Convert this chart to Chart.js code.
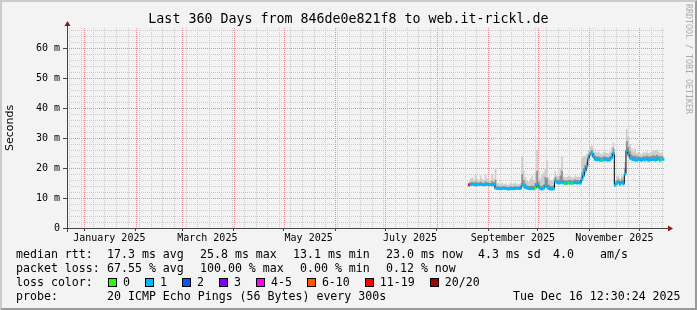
<!DOCTYPE html>
<html>
<head>
<meta charset="utf-8">
<script src="https://cdn.jsdelivr.net/npm/chart.js@4.4.1/dist/chart.umd.min.js"></script>
<style>
  html, body { margin: 0; padding: 0; background: #f3f3f3; }
  #wrap { position: relative; width: 697px; height: 310px; overflow: hidden; font-family: 'DejaVu Sans Mono', monospace; color: #000; }
  #frame { position: absolute; left: 0; top: 0; width: 697px; height: 310px; box-sizing: border-box; border: 2px solid; border-color: #cbcbcb #999 #999 #cbcbcb; pointer-events: none; }
  canvas { position: absolute; left: 0; top: 0; }
  #title { position: absolute; left: 0; top: 11px; width: 697px; text-align: center; font-size: 13.3px; line-height: 16px; white-space: pre; }
  #mark { position: absolute; left: 684px; top: 4px; writing-mode: vertical-rl; font-size: 8.3px; color: #aaa; white-space: pre; }
  .t { position: absolute; font-size: 11.6px; line-height: 14px; white-space: pre; }
  .box { display: inline-block; width: 7px; height: 7px; border: 1px solid #000; vertical-align: -1px; margin-right: 6px; }
  .item { margin-right: 15px; }
</style>
</head>
<body>
<div id="wrap">
  <canvas id="chart" width="697" height="310"></canvas>
  <div id="title">Last 360 Days from 846de0e821f8 to web.it-rickl.de</div>
  <div id="mark">RRDTOOL / TOBI OETIKER</div>

  <div class="t" style="top:247px; left:16px">median rtt:</div>
  <div class="t" style="top:247px; left:107px">17.3 ms avg</div>
  <div class="t" style="top:247px; left:200px">25.8 ms max</div>
  <div class="t" style="top:247px; left:293px">13.1 ms min</div>
  <div class="t" style="top:247px; left:386px">23.0 ms now</div>
  <div class="t" style="top:247px; left:478px">4.3 ms sd</div>
  <div class="t" style="top:247px; left:553px">4.0</div>
  <div class="t" style="top:247px; left:600px">am/s</div>

  <div class="t" style="top:261px; left:16px">packet loss:</div>
  <div class="t" style="top:261px; left:107px">67.55 % avg</div>
  <div class="t" style="top:261px; left:200px">100.00 % max</div>
  <div class="t" style="top:261px; left:300px">0.00 % min</div>
  <div class="t" style="top:261px; left:386px">0.12 % now</div>

  <div class="t" style="top:275px; left:16px">loss color:</div>
  <div class="t" id="lossLegend" style="top:275px; left:108px"></div>

  <div class="t" style="top:289px; left:16px">probe:</div>
  <div class="t" style="top:289px; left:107px">20 ICMP Echo Pings (56 Bytes) every 300s</div>
  <div class="t" style="top:289px; left:513px">Tue Dec 16 12:30:24 2025</div>
  <div id="frame"></div>
</div>
<script>
// one value per day, first value is day 242 of the 360 day window
const startDay = 242;

const median = [
  14.4, 14.5, 14.6, 14.5, 14.4, 14.5, 14.6, 14.5, 14.5, 14.4, 14.5, 14.6, 14.5, 14.5, 14.4, 14.5,
  13.3, 13.2, 13.2, 13.1, 13.2, 13.3, 13.2, 13.1, 13.0, 13.2, 13.2, 13.1, 13.2, 13.3, 13.2, 13.2,
  14.3, 14.0, 13.5, 13.3, 13.2, 13.1, 13.2, 13.1, 13.4, 14.5, 13.6, 13.1, 13.0, 13.3, 14.0, 13.8, 13.2, 13.0, 13.0, 13.1,
  15.6, 15.2, 15.0, 15.1, 15.3, 15.0, 14.8, 14.9, 15.1, 15.0, 14.9, 15.0, 15.2, 15.0, 15.1, 15.0,
  16.2, 17.5, 19.0, 20.5, 23.2, 24.5, 24.9, 23.8, 22.9, 22.7, 22.8, 22.6, 22.5, 22.7, 22.8, 22.7, 22.6, 22.8, 23.5, 24.8,
  14.3, 14.8, 15.3, 14.6, 15.2, 14.7,
  18.0, 25.8, 24.5, 23.3, 23.0, 22.8, 22.7, 22.6, 22.8, 22.7, 22.6, 22.9, 22.7, 23.0, 22.6, 22.7, 22.8, 22.9, 22.7, 22.8, 23.0, 22.6, 22.8, 22.9
];

const smokeMid = [
  15.0, 15.2, 15.3, 15.1, 15.5, 15.2, 15.0, 15.4, 15.1, 15.0, 15.5, 15.2, 15.1, 15.0, 15.6, 15.2,
  16.0, 13.8, 13.9, 13.7, 13.9, 13.8, 13.8, 13.6, 13.6, 13.9, 13.7, 13.8, 13.9, 13.7, 13.8, 13.9,
  18.0, 16.0, 14.8, 14.2, 14.0, 14.0, 14.2, 14.0, 15.0, 19.0, 15.5, 14.2, 14.0, 14.5, 17.0, 16.5, 14.5, 14.0, 14.0, 14.2,
  17.0, 16.2, 16.0, 17.5, 19.0, 16.0, 15.8, 15.8, 16.0, 16.0, 15.8, 15.9, 16.2, 16.0, 16.0, 16.0,
  18.5, 20.0, 21.0, 22.0, 24.5, 25.5, 26.0, 25.0, 24.0, 23.8, 23.9, 23.6, 23.5, 23.8, 23.9, 23.7, 23.6, 24.0, 25.0, 26.5,
  15.2, 15.8, 16.2, 15.5, 16.2, 15.8,
  20.0, 29.0, 27.0, 25.5, 24.5, 24.0, 24.2, 23.8, 23.9, 23.7, 23.6, 24.0, 23.8, 24.2, 23.8, 23.9, 24.0, 24.3, 24.0, 24.4, 24.2, 23.8, 23.9, 24.0
];

const smokeMax = [
  16.0, 16.5, 16.8, 16.2, 17.8, 16.5, 16.0, 17.5, 16.3, 16.0, 17.8, 16.5, 16.2, 16.0, 18.0, 16.5,
  20.0, 14.8, 15.0, 14.5, 15.2, 14.6, 14.8, 14.4, 14.5, 15.0, 14.6, 14.8, 15.2, 14.5, 14.7, 15.0,
  23.8, 19.0, 17.0, 16.0, 15.5, 16.5, 17.5, 16.0, 18.5, 26.0, 19.0, 16.5, 17.8, 18.5, 20.0, 22.5, 17.0, 16.0, 15.8, 16.5,
  19.0, 17.5, 17.0, 20.0, 23.8, 17.2, 16.8, 17.0, 17.5, 17.2, 16.8, 16.8, 17.5, 17.0, 17.2, 17.0,
  23.5, 24.0, 24.0, 24.5, 26.0, 27.0, 27.5, 26.5, 25.5, 25.2, 25.5, 24.8, 24.6, 25.3, 25.5, 25.0, 24.8, 25.5, 27.0, 28.5,
  16.0, 17.0, 17.5, 16.5, 17.5, 17.0,
  22.0, 33.0, 30.5, 28.0, 26.5, 25.5, 26.5, 25.0, 25.2, 24.8, 24.6, 25.3, 25.0, 25.6, 25.0, 25.2, 25.5, 26.0, 25.8, 26.2, 25.6, 25.0, 25.2, 25.3
];

// lost pings out of 20
const loss = [
  15, 1, 1, 1, 1, 1, 1, 1, 1, 1, 1, 1, 1, 1, 1, 1,
  1, 1, 1, 1, 1, 1, 1, 1, 1, 1, 1, 1, 1, 1, 1, 1,
  1, 1, 1, 1, 1, 1, 1, 1, 0, 1, 1, 1, 1, 1, 1, 1, 1, 1, 1, 1,
  1, 1, 1, 1, 1, 1, 0, 1, 0, 1, 0, 1, 1, 1, 1, 1,
  1, 1, 1, 1, 1, 1, 1, 1, 1, 1, 1, 1, 0, 1, 1, 1, 1, 1, 1, 1,
  1, 1, 1, 1, 1, 1,
  1, 1, 1, 1, 1, 1, 1, 1, 1, 1, 1, 1, 1, 1, 1, 1, 1, 1, 1, 1, 1, 1, 0, 1
];

const lossLabels = ['0', '1', '2', '3', '4-5', '6-10', '11-19', '20/20'];
const lossUpper = [0, 1, 2, 3, 5, 10, 19, 20];
const lossColors = ['#26ff00', '#00b8ff', '#0059ff', '#7e00ff', '#ff00ff', '#ff5500', '#ff0000', '#a10000'];

const xLabels = ['January 2025', 'March 2025', 'May 2025', 'July 2025', 'September 2025', 'November 2025'];

const lossColor = n => lossColors[lossUpper.findIndex(u => n <= u)];

document.getElementById('lossLegend').innerHTML = lossLabels.map((l, i) =>
  '<span class="item"><span class="box" style="background:' + lossColors[i] + '"></span>' + l + '</span>').join('');

// time axis in days from the window start
const t0 = Date.UTC(2024, 11, 21, 12, 30);
const dayOf = (y, m, d) => (Date.UTC(y, m, d) - t0) / 864e5;

const monthStarts = [];
for (let m = 0; m < 12; m++) monthStarts.push(dayOf(2025, m, 1));
let xTicks = monthStarts.map(v => ({ value: v, type: 'month', label: '' }));
for (let d = dayOf(2024, 11, 23); d < 360; d += 7) {
  if (!monthStarts.some(m => Math.abs(m - d) < 0.01)) xTicks.push({ value: d, type: 'week', label: '' });
}
xLabels.forEach((l, i) => xTicks.push({ value: dayOf(2025, 2 * i, 16), type: 'label', label: l }));
xTicks.sort((a, b) => a.value - b.value);

const yTicks = [];
for (let v = 0; v <= 66; v += 2) yTicks.push(v);

const pts = arr => arr.map((v, i) => ({ x: startDay + i, y: v }));

const majorDot = '#e88c8c';
const minorDot = '#cacaca';
const mono = { family: 'DejaVu Sans Mono', size: 10 };

// rrdtool style dotted grid, one pixel on / one off
const gridPlugin = {
  id: 'dotGrid',
  beforeDatasetsDraw(chart) {
    const { ctx, chartArea: a, scales: { x, y } } = chart;
    const vline = (px, c) => { ctx.fillStyle = c; for (let yy = a.top; yy < a.bottom; yy += 2) ctx.fillRect(px, yy, 1, 1); };
    const hline = (py, c) => { ctx.fillStyle = c; for (let xx = a.left; xx < a.right; xx += 2) ctx.fillRect(xx, py, 1, 1); };
    ctx.save();
    xTicks.filter(t => t.type === 'week').forEach(t => vline(Math.round(x.getPixelForValue(t.value)), minorDot));
    yTicks.filter(v => v % 10 !== 0).forEach(v => hline(Math.round(y.getPixelForValue(v)), minorDot));
    xTicks.filter(t => t.type === 'month').forEach(t => vline(Math.round(x.getPixelForValue(t.value)), majorDot));
    yTicks.filter(v => v % 10 === 0).forEach(v => hline(Math.round(y.getPixelForValue(v)), majorDot));
    ctx.restore();
  }
};

const axesPlugin = {
  id: 'axes',
  afterDatasetsDraw(chart) {
    const { ctx, chartArea: a } = chart;
    const x0 = a.left + 0.5, y0 = a.bottom + 0.5;
    ctx.save();
    ctx.strokeStyle = '#444';
    ctx.lineWidth = 1;
    ctx.beginPath();
    ctx.moveTo(a.left - 4, y0);
    ctx.lineTo(a.right + 4, y0);
    ctx.moveTo(x0, a.bottom + 4);
    ctx.lineTo(x0, a.top - 3);
    ctx.stroke();
    ctx.fillStyle = '#8b1a1a';
    ctx.beginPath();
    ctx.moveTo(x0, a.top - 7);
    ctx.lineTo(x0 - 3, a.top - 2);
    ctx.lineTo(x0 + 3, a.top - 2);
    ctx.closePath();
    ctx.fill();
    ctx.beginPath();
    ctx.moveTo(a.right + 8, y0);
    ctx.lineTo(a.right + 3, y0 - 3);
    ctx.lineTo(a.right + 3, y0 + 3);
    ctx.closePath();
    ctx.fill();
    ctx.restore();
  }
};

new Chart(document.getElementById('chart'), {
  type: 'line',
  data: {
    datasets: [
      { data: pts(median), borderColor: '#000', borderWidth: 1, stepped: 'middle', pointRadius: 0, fill: false, order: 1 },
      { data: pts(smokeMid), borderColor: 'rgba(0,0,0,0)', backgroundColor: '#8e8e8e', stepped: 'middle', pointRadius: 0, fill: 0, order: 2 },
      { data: pts(smokeMax), borderColor: 'rgba(0,0,0,0)', backgroundColor: '#cdcdcd', stepped: 'middle', pointRadius: 0, fill: 0, order: 3 },
      { data: pts(median), showLine: false, pointStyle: 'line', pointRadius: 1.1, pointBorderWidth: 3,
        pointBorderColor: loss.map(lossColor), order: 0 }
    ]
  },
  options: {
    responsive: false,
    animation: false,
    devicePixelRatio: 1,
    events: [],
    layout: { padding: { top: 28, right: 32, left: 0, bottom: 0 } },
    plugins: { legend: { display: false }, tooltip: { enabled: false } },
    scales: {
      x: {
        type: 'linear', min: 0, max: 360,
        afterBuildTicks: s => { s.ticks = xTicks.map(t => ({ value: t.value })); },
        afterFit: s => { s.height = 82; },
        grid: {
          drawOnChartArea: false,
          tickColor: c => xTicks[c.index].type === 'month' ? '#444' : 'rgba(0,0,0,0)',
          tickLength: 3
        },
        border: { display: false },
        ticks: { autoSkip: false, maxRotation: 0, padding: 1, font: mono, color: '#000',
          callback: (v, i) => xTicks[i].label }
      },
      y: {
        min: 0, max: 66.67,
        afterBuildTicks: s => { s.ticks = yTicks.map(v => ({ value: v })); },
        afterFit: s => { s.width = 67; },
        grid: {
          drawOnChartArea: false,
          tickColor: c => yTicks[c.index] % 10 === 0 ? '#444' : 'rgba(0,0,0,0)',
          tickLength: 4
        },
        border: { display: false },
        title: { display: true, text: 'Seconds', color: '#000', font: { family: 'DejaVu Sans', size: 11 }, padding: { top: 4, bottom: 0 } },
        ticks: { autoSkip: false, padding: 3, font: mono, color: '#000',
          callback: (v, i) => yTicks[i] % 10 === 0 ? (yTicks[i] === 0 ? '0' : yTicks[i] + ' m') : '' }
      }
    }
  },
  plugins: [gridPlugin, axesPlugin]
});
</script>
</body>
</html>
